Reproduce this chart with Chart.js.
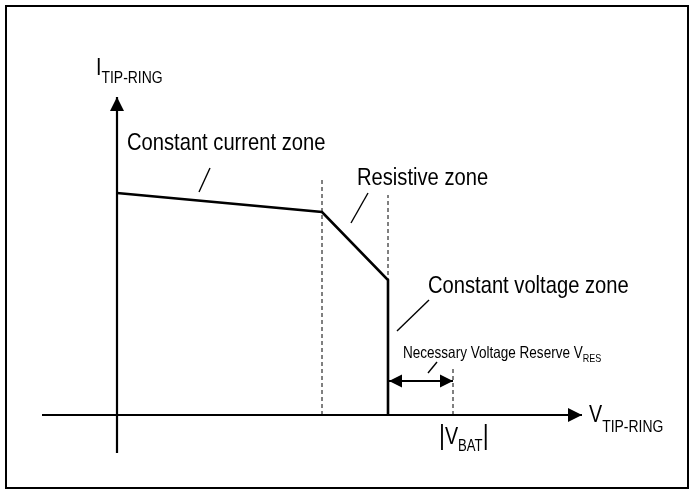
<!DOCTYPE html>
<html>
<head>
<meta charset="UTF-8" />
<title>Feed characteristic</title>
<script src="https://cdn.jsdelivr.net/npm/chart.js@4"></script>
<style>
  body { margin: 0; background: #fff; }
  #wrap { position: relative; width: 695px; height: 489px; }
  #frame { position: absolute; left: 5px; top: 5px; width: 684px; height: 484px;
           border: 2px solid #000; box-sizing: border-box; pointer-events: none; }
</style>
</head>
<body>
<div id="wrap">
  <canvas id="chart" width="695" height="489"></canvas>
  <div id="frame"></div>
</div>
<script>
// feed curve, V_TIP-RING vs I_TIP-RING (arbitrary units)
const voltage = [0, 205, 271, 271];
const current = [222, 203, 135, 0];
const zoneEdges = [205, 271];
const zoneEdgeTops = [237, 220];
const vBat = 336;
const vBatTop = 47;
const reserveLevel = 34;
const xRange = [-75, 465];
const yRange = [-38, 318];

// leader lines from labels to the curve
const leaderFrom = [[93, 247], [251, 222], [312, 115], [320, 53]];
const leaderTo = [[82, 223], [234, 192], [280, 84], [311, 42]];

const zoneLabels = ["Constant current zone", "Resistive zone", "Constant voltage zone"];
const reserveLabel = ["Necessary Voltage Reserve V", "RES"];
const yAxisLabel = ["I", "TIP-RING"];
const xAxisLabel = ["V", "TIP-RING"];
const batLabel = ["V", "BAT"];

const pts = (xs, ys) => xs.map((x, i) => ({ x: x, y: ys[i] }));
const seg = (a, b) => [{ x: a[0], y: a[1] }, { x: b[0], y: b[1] }];

const datasets = [
  { data: pts(voltage, current), borderWidth: 2.6 },
  { data: [{ x: xRange[0], y: 0 }, { x: xRange[1], y: 0 }], borderWidth: 2.2 },
  { data: [{ x: 0, y: yRange[0] }, { x: 0, y: yRange[1] }], borderWidth: 2.2 },
  { data: [{ x: zoneEdges[1], y: reserveLevel }, { x: vBat, y: reserveLevel }], borderWidth: 2 }
];
zoneEdges.forEach((v, i) => {
  datasets.push({ data: [{ x: v, y: 0 }, { x: v, y: zoneEdgeTops[i] }], borderWidth: 1, borderDash: [4, 3] });
});
datasets.push({ data: [{ x: vBat, y: 0 }, { x: vBat, y: vBatTop }], borderWidth: 1, borderDash: [4, 3] });
leaderFrom.forEach((p, i) => {
  datasets.push({ data: seg(p, leaderTo[i]), borderWidth: 1.4 });
});
datasets.forEach(d => {
  d.showLine = true;
  d.borderColor = "#000";
  d.pointRadius = 0;
  d.fill = false;
  d.tension = 0;
});

function drawText(ctx, parts, x, y) {
  ctx.save();
  ctx.translate(x, y);
  ctx.scale(0.82, 1);
  let cx = 0;
  parts.forEach(([t, size, dy]) => {
    ctx.font = size + 'px "Liberation Sans", Arial, sans-serif';
    ctx.fillText(t, cx, dy || 0);
    cx += ctx.measureText(t).width;
  });
  ctx.restore();
}

function arrow(ctx, x, y, ux, uy, len, half) {
  ctx.beginPath();
  ctx.moveTo(x, y);
  ctx.lineTo(x - ux * len - uy * half, y - uy * len + ux * half);
  ctx.lineTo(x - ux * len + uy * half, y - uy * len - ux * half);
  ctx.closePath();
  ctx.fill();
}

const annotations = {
  id: "annotations",
  beforeDraw(chart) {
    const ctx = chart.ctx;
    ctx.save();
    ctx.fillStyle = "#fff";
    ctx.fillRect(0, 0, chart.width, chart.height);
    ctx.restore();
  },
  afterDatasetsDraw(chart) {
    const ctx = chart.ctx;
    const sx = v => chart.scales.x.getPixelForValue(v);
    const sy = v => chart.scales.y.getPixelForValue(v);
    ctx.save();
    ctx.fillStyle = "#000";
    ctx.textBaseline = "alphabetic";

    arrow(ctx, sx(xRange[1]), sy(0), 1, 0, 14, 7);
    arrow(ctx, sx(0), sy(yRange[1]), 0, -1, 14, 7);
    arrow(ctx, sx(zoneEdges[1]) + 1, sy(reserveLevel), -1, 0, 13, 6.5);
    arrow(ctx, sx(vBat), sy(reserveLevel), 1, 0, 13, 6.5);

    drawText(ctx, [[zoneLabels[0], 24.6]], sx(10), sy(265));
    drawText(ctx, [[zoneLabels[1], 24.6]], sx(240), sy(230));
    drawText(ctx, [[zoneLabels[2], 24.6]], sx(311), sy(122));
    drawText(ctx, [[reserveLabel[0], 16.5], [reserveLabel[1], 11, 4]], sx(286), sy(57));
    drawText(ctx, [[yAxisLabel[0], 24], [yAxisLabel[1], 17, 8]], sx(-21), sy(340));
    drawText(ctx, [[xAxisLabel[0], 24], [xAxisLabel[1], 17, 10]], sx(472), sy(-7));
    drawText(ctx, [["|", 28], [batLabel[0], 24], [batLabel[1], 16, 7], ["|", 28]], sx(322), sy(-29));
    ctx.restore();
  }
};

new Chart(document.getElementById("chart"), {
  type: "scatter",
  data: { datasets: datasets },
  options: {
    responsive: false,
    animation: false,
    events: [],
    layout: { padding: { left: 42, right: 113, top: 97, bottom: 36 } },
    scales: {
      x: { type: "linear", min: xRange[0], max: xRange[1], display: false },
      y: { type: "linear", min: yRange[0], max: yRange[1], display: false }
    },
    plugins: { legend: { display: false }, tooltip: { enabled: false } },
    elements: { line: { borderCapStyle: "butt" } }
  },
  plugins: [annotations]
});
</script>
</body>
</html>
